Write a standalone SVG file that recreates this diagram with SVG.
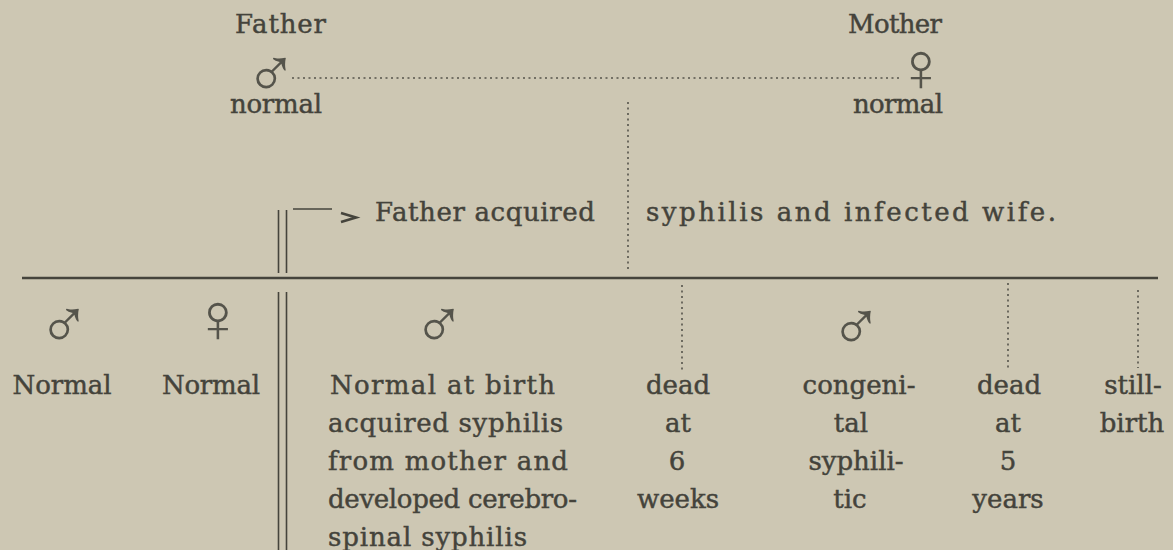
<svg xmlns="http://www.w3.org/2000/svg" width="1173" height="550" viewBox="0 0 1173 550">
<defs>
<style>
.bg{fill:#cdc7b3}
.t{font-family:"DejaVu Serif","Liberation Serif",serif;font-size:26px;fill:#44433b;stroke:#44433b;stroke-width:0.45}
.c{text-anchor:middle}
.sym{font-family:"Liberation Sans",sans-serif;font-size:70px;fill:#55544b;text-anchor:middle}
.solid{stroke:#45443c;fill:none}
.dot{stroke:#55544b;stroke-width:1.6;stroke-dasharray:2 3.5;fill:none}
</style>
</defs>
<rect class="bg" x="0" y="0" width="1173" height="550"/>
<g id="father">
<text class="t" x="235" y="33" textLength="91">Father</text>
<text class="sym" x="271" y="97">♂</text>
<text class="t" x="230" y="113" textLength="92">normal</text>
</g>
<g id="mother">
<text class="t" x="848" y="33" textLength="94">Mother</text>
<text class="sym" x="921" y="91">♀</text>
<text class="t" x="853" y="113" textLength="90">normal</text>
</g>
<g id="event">
<text class="t" x="375" y="221" textLength="220" lengthAdjust="spacing">Father acquired</text>
<text class="t" x="646" y="221" textLength="410" lengthAdjust="spacing">syphilis and infected wife.</text>
</g>
<g id="connectors">
<line class="dot" x1="292" y1="78" x2="900" y2="78"/>
<line class="dot" x1="628" y1="102" x2="628" y2="272"/>
<line class="solid" x1="22" y1="278" x2="1158" y2="278" stroke-width="2.5"/>
<line class="solid" x1="278.5" y1="210" x2="278.5" y2="273" stroke-width="1.6"/>
<line class="solid" x1="286.5" y1="210" x2="286.5" y2="273" stroke-width="1.6"/>
<line class="solid" x1="278.5" y1="292" x2="278.5" y2="550" stroke-width="1.6"/>
<line class="solid" x1="286.5" y1="292" x2="286.5" y2="550" stroke-width="1.6"/>
<line class="solid" x1="293" y1="209" x2="332" y2="209" stroke-width="1.6"/>
<polyline class="solid" points="341,213 356,217.5 341,222" stroke-width="2.6"/>
<line class="dot" x1="682" y1="285" x2="682" y2="370"/>
<line class="dot" x1="1008" y1="283" x2="1008" y2="368"/>
<line class="dot" x1="1138" y1="290" x2="1138" y2="368" stroke-width="2.2"/>
</g>
<g id="child1">
<text class="sym" x="64" y="348">♂</text>
<text class="t c" x="62" y="394" textLength="99">Normal</text>
</g>
<g id="child2">
<text class="sym" x="218" y="342">♀</text>
<text class="t c" x="211" y="394" textLength="98">Normal</text>
</g>
<g id="child3">
<text class="sym" x="439" y="348">♂</text>
<text class="t" x="330" y="394" textLength="225" lengthAdjust="spacing">Normal at birth</text>
<text class="t" x="328" y="432" textLength="235" lengthAdjust="spacing">acquired syphilis</text>
<text class="t" x="328" y="470" textLength="240" lengthAdjust="spacing">from mother and</text>
<text class="t" x="328" y="508" textLength="249" lengthAdjust="spacing">developed cerebro-</text>
<text class="t" x="328" y="546" textLength="199" lengthAdjust="spacing">spinal syphilis</text>
</g>
<g id="child4">
<text class="t c" x="678" y="394">dead</text>
<text class="t c" x="678" y="432">at</text>
<text class="t c" x="677" y="470">6</text>
<text class="t c" x="678" y="508">weeks</text>
</g>
<g id="child5">
<text class="sym" x="856" y="350">♂</text>
<text class="t c" x="859" y="394">congeni-</text>
<text class="t c" x="851" y="432">tal</text>
<text class="t c" x="856" y="470">syphili-</text>
<text class="t c" x="850" y="508">tic</text>
</g>
<g id="child6">
<text class="t c" x="1009" y="394">dead</text>
<text class="t c" x="1008" y="432">at</text>
<text class="t c" x="1008" y="470">5</text>
<text class="t c" x="1008" y="508">years</text>
</g>
<g id="child7">
<text class="t c" x="1133" y="394">still-</text>
<text class="t c" x="1132" y="432">birth</text>
</g>
</svg>
